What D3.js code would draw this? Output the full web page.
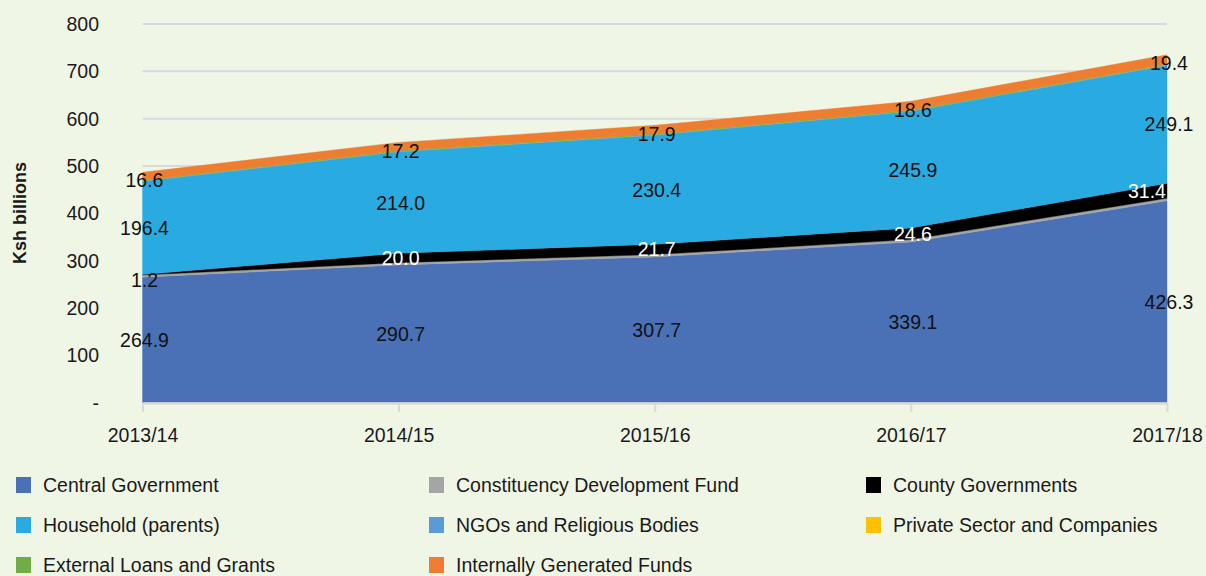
<!DOCTYPE html>
<html>
<head>
<meta charset="utf-8">
<script src="https://cdn.jsdelivr.net/npm/d3@7"></script>
<style>
  body { margin: 0; background: #f0f6e6; }
  svg { display: block; font-family: "Liberation Sans", Arial, sans-serif; }
</style>
</head>
<body>
<script>
// years on the x axis
var years = ["2013/14", "2014/15", "2015/16", "2016/17", "2017/18"];

// Ksh billions per source of funds
var central   = [264.9, 290.7, 307.7, 339.1, 426.3];
var cdf       = [4.5, 4.8, 5.0, 5.2, 5.5];
var county    = [1.2, 20.0, 21.7, 24.6, 31.4];
var household = [196.4, 214.0, 230.4, 245.9, 249.1];
var ngo       = [1.5, 1.5, 1.5, 1.6, 1.6];
var privSec   = [0.3, 0.3, 0.3, 0.3, 0.3];
var external  = [1.2, 1.2, 1.3, 1.3, 1.4];
var internal  = [16.6, 17.2, 17.9, 18.6, 19.4];

var seriesNames = ["Central Government", "Constituency Development Fund", "County Governments",
  "Household (parents)", "NGOs and Religious Bodies", "Private Sector and Companies",
  "External Loans and Grants", "Internally Generated Funds"];
var seriesColors = ["#4a70b6", "#a5a5a5", "#000000", "#29abe2", "#5b9bd5", "#ffc000", "#70ad47", "#ed7d31"];
var seriesValues = [central, cdf, county, household, ngo, privSec, external, internal];
var labelled = [0, 2, 3, 7]; // series that show value labels

var yTicks = [0, 100, 200, 300, 400, 500, 600, 700, 800];

var width = 1206, height = 576;

var svg = d3.select("body").append("svg")
    .attr("width", width)
    .attr("height", height);

// build rows for d3.stack
var rows = years.map(function(y, i) {
  var r = { year: y };
  seriesNames.forEach(function(n, k) { r[n] = seriesValues[k][i]; });
  return r;
});

var stacked = d3.stack().keys(seriesNames)(rows);

var x = d3.scalePoint().domain(years).range([142.5, 1167]);
var y = d3.scaleLinear().domain([0, 800]).range([402.5, 24]);

// gridlines
svg.append("g")
  .selectAll("line")
  .data(yTicks.slice(1))
  .enter().append("line")
    .attr("x1", x.range()[0])
    .attr("x2", x.range()[1])
    .attr("y1", function(d) { return y(d); })
    .attr("y2", function(d) { return y(d); })
    .style("stroke", "#d9d9d9")
    .style("stroke-width", 2);

// stacked areas
var area = d3.area()
    .x(function(d) { return x(d.data.year); })
    .y0(function(d) { return y(d[0]); })
    .y1(function(d) { return y(d[1]); });

svg.append("g")
  .selectAll("path")
  .data(stacked)
  .enter().append("path")
    .attr("d", area)
    .style("fill", function(d, i) { return seriesColors[i]; })
    .style("stroke", function(d, i) { return seriesColors[i]; })
    .style("stroke-width", 0.4);

// x axis
var xAxis = svg.append("g")
    .attr("transform", "translate(0," + 403 + ")")
    .call(d3.axisBottom(x).tickSize(9).tickPadding(16).tickSizeOuter(0));
xAxis.select(".domain").style("stroke", "#d9d9d9").style("stroke-width", 2.5);
xAxis.selectAll(".tick line").style("stroke", "#d9d9d9").style("stroke-width", 2);
xAxis.selectAll("text")
    .style("font-size", "19.5px")
    .style("fill", "#1a1a1a")
    .attr("font-family", null);

// y axis labels
svg.append("g")
  .selectAll("text")
  .data(yTicks)
  .enter().append("text")
    .attr("x", 99)
    .attr("y", function(d) { return y(d); })
    .attr("dy", "0.36em")
    .attr("text-anchor", "end")
    .style("font-size", "19.5px")
    .style("fill", "#1a1a1a")
    .text(function(d) { return d === 0 ? "-" : d; });

svg.append("text")
    .attr("transform", "translate(26,213) rotate(-90)")
    .attr("text-anchor", "middle")
    .style("font-size", "18px")
    .style("font-weight", "bold")
    .style("fill", "#1a1a1a")
    .text("Ksh billions");

// value labels, centred in their band
var xMax = x.range()[1];
labelled.forEach(function(k) {
  svg.append("g")
    .selectAll("text")
    .data(stacked[k])
    .enter().append("text")
      .attr("x", function(d) {
        var px = x(d.data.year) + 2;
        // white labels stay inside the black band
        if (k === 2) px = Math.min(px, xMax - 20);
        return px;
      })
      .attr("y", function(d) {
        var mid = y((d[0] + d[1]) / 2);
        if (k === 7) mid += 4;
        if (k === 2 && d[1] - d[0] < 5) mid += 5;
        return mid;
      })
      .attr("dy", "0.36em")
      .attr("text-anchor", "middle")
      .style("font-size", "19.5px")
      .style("fill", function(d) {
        return (k === 2 && d[1] - d[0] >= 5) ? "#ffffff" : "#111111";
      })
      .text(function(d) { return (d[1] - d[0]).toFixed(1); });
});

// legend
var legend = svg.append("g")
  .selectAll("g")
  .data(seriesNames)
  .enter().append("g")
    .attr("transform", function(d, i) {
      var col = i % 3, row = Math.floor(i / 3);
      return "translate(" + [16, 429, 866][col] + "," + (485 + row * 40) + ")";
    });

legend.append("rect")
    .attr("x", 0)
    .attr("y", -8)
    .attr("width", 15)
    .attr("height", 16)
    .style("fill", function(d, i) { return seriesColors[i]; });

legend.append("text")
    .attr("x", 27)
    .attr("y", 0)
    .attr("dy", "0.36em")
    .style("font-size", "19.5px")
    .style("fill", "#1a1a1a")
    .text(function(d) { return d; });
</script>
</body>
</html>
